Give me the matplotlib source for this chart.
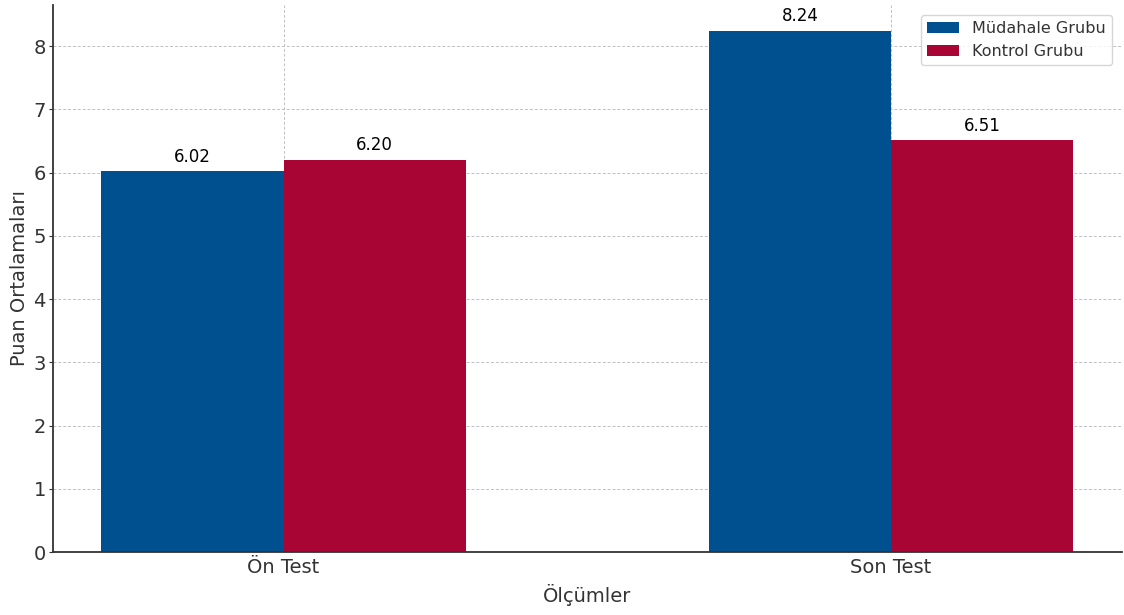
import numpy as np
import matplotlib.pyplot as plt

# ortalama puanlar
olcumler = ['Ön Test', 'Son Test']
mudahale = [6.02, 8.24]
kontrol = [6.20, 6.51]

x = np.arange(len(olcumler))
w = 0.3

plt.rcParams['font.family'] = ['DejaVu Sans']
fig = plt.figure(figsize=(11.24, 6.15), dpi=100)
ax = fig.add_axes([0.047, 0.1024, 0.951, 0.8896])

b1 = ax.bar(x - w/2, mudahale, w, color='#00508f', label='Müdahale Grubu', zorder=2)
b2 = ax.bar(x + w/2, kontrol, w, color='#a80535', label='Kontrol Grubu', zorder=2)

for bars in (b1, b2):
    for b in bars:
        h = b.get_height()
        ax.annotate('%.2f' % h, (b.get_x() + b.get_width()/2, h),
                    xytext=(0, 4), textcoords='offset points',
                    ha='center', va='bottom', fontsize=12, color='black')

ax.set_xticks(x)
ax.set_xticklabels(olcumler)
ax.set_xlabel('Ölçümler', fontsize=14, color='#333333', labelpad=5)
ax.set_ylabel('Puan Ortalamaları', fontsize=14, color='#333333', labelpad=3)
ax.tick_params(axis='x', length=0, labelsize=14, labelcolor='#333333', pad=4)
ax.tick_params(axis='y', length=3, labelsize=14, labelcolor='#333333', color='#333333', pad=2)

for s in ['top', 'right']:
    ax.spines[s].set_visible(False)
for s in ['left', 'bottom']:
    ax.spines[s].set_color('#333333')
    ax.spines[s].set_linewidth(1.3)

ax.grid(True, linestyle=(0, (3, 2)), color='#c0c0c0', linewidth=0.7, zorder=0)
ax.set_axisbelow(True)

leg = ax.legend(loc='upper right', fontsize=11.5, labelcolor='#333333',
                borderaxespad=0.6)

fig.savefig('out.png', dpi=100)
